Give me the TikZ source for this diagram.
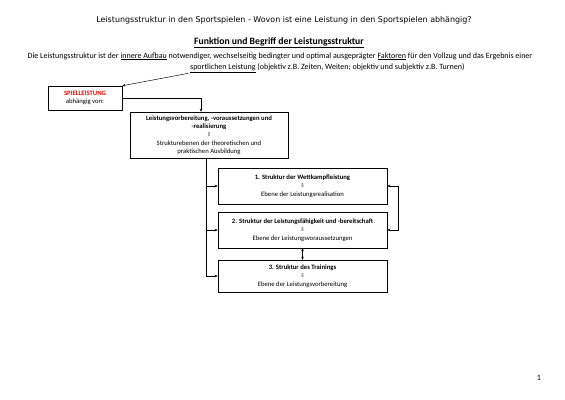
\documentclass[tikz,border=0pt]{standalone}
\usepackage{fontspec}
\setmainfont{Carlito}
\newfontfamily\titelfont{DejaVu Sans}
\newfontfamily\pfeilfont{DejaVu Sans}
\usetikzlibrary{arrows.meta}

% kleiner Pfeil nach unten in den Kaesten
\newcommand{\runter}{{\pfeilfont\fontsize{8}{9}\selectfont ⇩}}

\begin{document}
\begin{tikzpicture}[x=0.0526cm, y=-0.0526cm, >={Stealth[length=4.5pt,width=3.8pt]},
    font=\fontsize{12}{14}\selectfont,
    kasten/.style={draw, line width=0.8pt, align=center, inner sep=2pt,
      font=\fontsize{10}{12.5}\selectfont},
    zeile/.style={inner sep=0pt},
    verbindung/.style={line width=0.7pt}]

  % Seite
  \useasboundingbox[fill=white] (0,0) rectangle (565,400);

  % Ueberschriften
  \node[zeile, font=\titelfont\fontsize{11.9}{13}\selectfont] (titel) at (284,20)
    {Leistungsstruktur in den Sportspielen - Wovon ist eine Leistung in den Sportspielen abhängig?};
  \node[zeile, font=\bfseries\fontsize{14.5}{16}\selectfont] (begriff) at (279,43)
    {\underline{Funktion und Begriff der Leistungsstruktur}};

  % Definition
  \node[zeile] (zeile1) at (280,56)
    {Die Leistungsstruktur ist der \underline{innere Aufbau} notwendiger, wechselseitig bedingter und optimal ausgeprägter \underline{Faktoren} für den Vollzug und das Ergebnis einer};
  \node[zeile, anchor=west] (zeile2) at (190,68)
    {\underline{sportlichen Leistung} (objektiv z.B. Zeiten, Weiten; objektiv und subjektiv z.B. Turnen)};

  % Kaesten
  \node[kasten, minimum width=3.89cm, minimum height=1.26cm] (spiel) at (85,98)
    {\textcolor{red}{\textbf{SPIELLEISTUNG}}\\abhängig von:};
  \node[kasten, minimum width=8.31cm, minimum height=2.42cm] (vorb) at (209,135)
    {\textbf{Leistungsvorbereitung, -voraussetzungen und}\\\textbf{-realisierung}\\\runter\\Strukturebenen der theoretischen und\\praktischen Ausbildung};
  \node[kasten, minimum width=8.89cm, minimum height=1.89cm] (wettkampf) at (302.5,186)
    {\textbf{1. Struktur der Wettkampfleistung}\\\runter\\Ebene der Leistungsrealisation};
  \node[kasten, minimum width=8.89cm, minimum height=1.89cm] (faehigkeit) at (302.5,230)
    {\textbf{2. Struktur der Leistungsfähigkeit und -bereitschaft}\\\runter\\Ebene der Leistungsvoraussetzungen};
  \node[kasten, minimum width=8.89cm, minimum height=1.68cm] (training) at (302.5,276)
    {\textbf{3. Struktur des Trainings}\\\runter\\Ebene der Leistungsvorbereitung};

  % Seitenzahl
  \node[zeile] (seite) at (539,378) {1};

  % Verbindungen
  \draw[verbindung, ->] ([xshift=-0.1cm, yshift=-0.05cm]zeile2.south west) -- (spiel.north east);
  \draw[verbindung, ->] (spiel.east) -| ([xshift=-0.42cm]vorb.south |- vorb.north);
  \coordinate (linie) at ([xshift=-0.16cm]vorb.south);
  \draw[verbindung, ->] (linie) |- (training.west);
  \draw[verbindung, ->] (wettkampf.west -| linie) -- (wettkampf.west);
  \draw[verbindung, ->] (faehigkeit.west -| linie) -- (faehigkeit.west);
  \draw[verbindung, <->] (wettkampf.east) -- ++(11,0) |- (faehigkeit.east);
  \draw[verbindung, <->] (faehigkeit.south) -- (training.north);

\end{tikzpicture}
\end{document}
